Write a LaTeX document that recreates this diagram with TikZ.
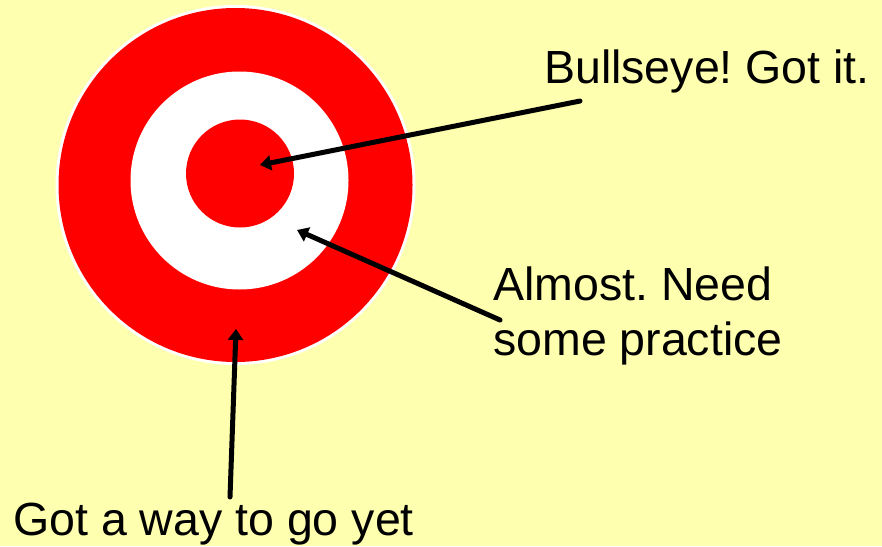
\documentclass[tikz,border=0pt]{standalone}
\usepackage{fontspec}
\setmainfont{Liberation Sans}
\usetikzlibrary{arrows.meta}
\definecolor{paper}{RGB}{255,255,176}
\definecolor{ring}{RGB}{255,0,0}
\frenchspacing
\begin{document}
\begin{tikzpicture}[
		x=1pt, y=-1pt,
		every node/.style={inner sep=0pt, anchor=base west, font=\fontsize{46.5}{55}\selectfont},
		pointer/.style={line width=5pt, line cap=round, -{Triangle[length=11pt, width=15pt]}},
		]
	\fill[paper] (0,0) rectangle (882,546);
	\useasboundingbox (0,0) rectangle (882,546);
	% target
	\fill[white] (235.5,185) circle (180pt);
	\fill[ring] (235.5,185) circle (177pt);
	\fill[white] (239.5,180.5) circle (109pt);
	\fill[ring] (240,173.5) circle (54pt);
	% hit points
	\coordinate (centre) at (260,165);
	\coordinate (inner) at (297,230);
	\coordinate (outer) at (236,329);
	% labels
	\node (bull) at (544,83) {Bullseye! Got it.};
	\node[align=left] (almost) at (493,355) {Almost. Need\\some practice};
	\node (far) at (13,535) {Got a way to go yet};
	\coordinate (bulltail) at (580,101);
	\coordinate (almosttail) at (500,320);
	\coordinate (fartail) at (230,497);
	\draw[pointer] (bulltail) -- (centre);
	\draw[pointer] (almosttail) -- (inner);
	\draw[pointer] (fartail) -- (outer);
\end{tikzpicture}
\end{document}
